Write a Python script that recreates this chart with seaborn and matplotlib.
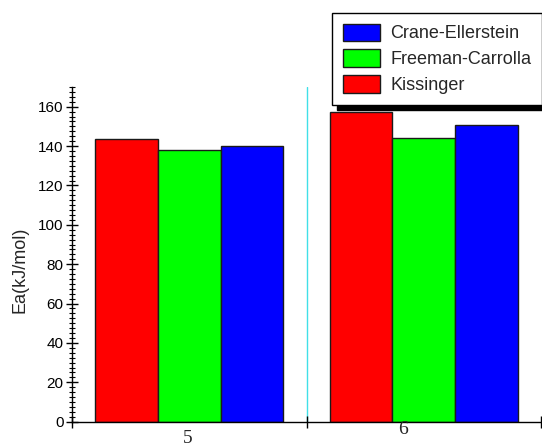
import matplotlib
matplotlib.use("Agg")
import matplotlib.pyplot as plt
import seaborn as sns
import pandas as pd
from matplotlib.patches import Patch
from matplotlib.ticker import MultipleLocator
from matplotlib.transforms import blended_transform_factory, ScaledTranslation

# ---- data ----
groups = ["5", "6"]
methods = ["Kissinger", "Freeman-Carrolla", "Crane-Ellerstein"]
kissinger = [143.5, 157.3]
freeman_carrolla = [138.1, 144.2]
crane_ellerstein = [139.9, 150.7]
legend_order = ["Crane-Ellerstein", "Freeman-Carrolla", "Kissinger"]
y_label = "Ea(kJ/mol)"

rows = []
for g, k, f, c in zip(groups, kissinger, freeman_carrolla, crane_ellerstein):
    rows.append({"group": g, "method": "Kissinger", "Ea": k})
    rows.append({"group": g, "method": "Freeman-Carrolla", "Ea": f})
    rows.append({"group": g, "method": "Crane-Ellerstein", "Ea": c})
df = pd.DataFrame(rows)

palette = {"Kissinger": "#FF0000", "Freeman-Carrolla": "#00FF00", "Crane-Ellerstein": "#0000FF"}

sns.set_style("white")
plt.rcParams["font.family"] = ["Liberation Sans", "DejaVu Sans"]

fig = plt.figure(figsize=(5.42, 4.47), dpi=100)
ax = fig.add_axes([72 / 542, 1 - 421.7 / 447, (541 - 72) / 542, (421.7 - 87) / 447])

sns.barplot(data=df, x="group", y="Ea", hue="method", hue_order=methods,
            order=groups, palette=palette, saturation=1, edgecolor="#1a1a1a",
            linewidth=1.0, width=0.8, gap=0, legend=False, ax=ax, errorbar=None)

ax.set_xlim(-0.5, 1.5)
ax.set_ylim(0, 170)
ax.set_xlabel("")
ax.set_ylabel(y_label, fontsize=13)
ax.yaxis.set_label_coords((29 - 72) / 469, (421.7 - 270) / 334.7)

for s in ["top", "right"]:
    ax.spines[s].set_visible(False)
for s in ["left", "bottom"]:
    ax.spines[s].set_color("black")
    ax.spines[s].set_linewidth(1.0)

ax.yaxis.set_major_locator(MultipleLocator(20))
ax.yaxis.set_minor_locator(MultipleLocator(2.5))
ax.tick_params(axis="y", which="major", direction="inout", length=8, width=1,
               labelsize=11, colors="black", left=True, pad=2)
ax.tick_params(axis="y", which="minor", direction="inout", length=4, width=0.8,
               left=True, colors="black")

ax.set_xticks([-0.5, 0.5, 1.5])
ax.set_xticklabels([])
ax.tick_params(axis="x", which="major", direction="inout", length=8, width=1,
               bottom=True, colors="black")

# group labels (serif, slightly irregular offsets as in the reference)
trans = blended_transform_factory(ax.transData, ax.transAxes)
offsets = [(-2, -17), (-21, -8)]
for i, (g, (dx, dy)) in enumerate(zip(groups, offsets)):
    t = trans + ScaledTranslation(dx / 100, dy / 100, fig.dpi_scale_trans)
    ax.text(i, 0, g, transform=t, ha="center", va="center",
            fontsize=14, family=["Liberation Serif", "DejaVu Serif"])

ax.axvline(0.5, ymin=0, ymax=1.0, color="#40E0E8", lw=1.0, zorder=0.5)

handles = [Patch(facecolor=palette[m], edgecolor="#1a1a1a", linewidth=1.0) for m in legend_order]
leg = fig.legend(handles, legend_order, loc="upper left",
                 bbox_to_anchor=(331.7 / 542, 1 - 12.7 / 447),
                 bbox_transform=fig.transFigure, fontsize=13,
                 frameon=True, fancybox=False, framealpha=1, edgecolor="black",
                 borderaxespad=0, borderpad=0.6, handlelength=2.1,
                 handleheight=1.12, labelspacing=0.38, handletextpad=0.55,
                 shadow={"color": "black", "alpha": 1, "ox": 4, "oy": -4})
leg.get_frame().set_linewidth(1.0)

fig.savefig("out.png", dpi=100)
